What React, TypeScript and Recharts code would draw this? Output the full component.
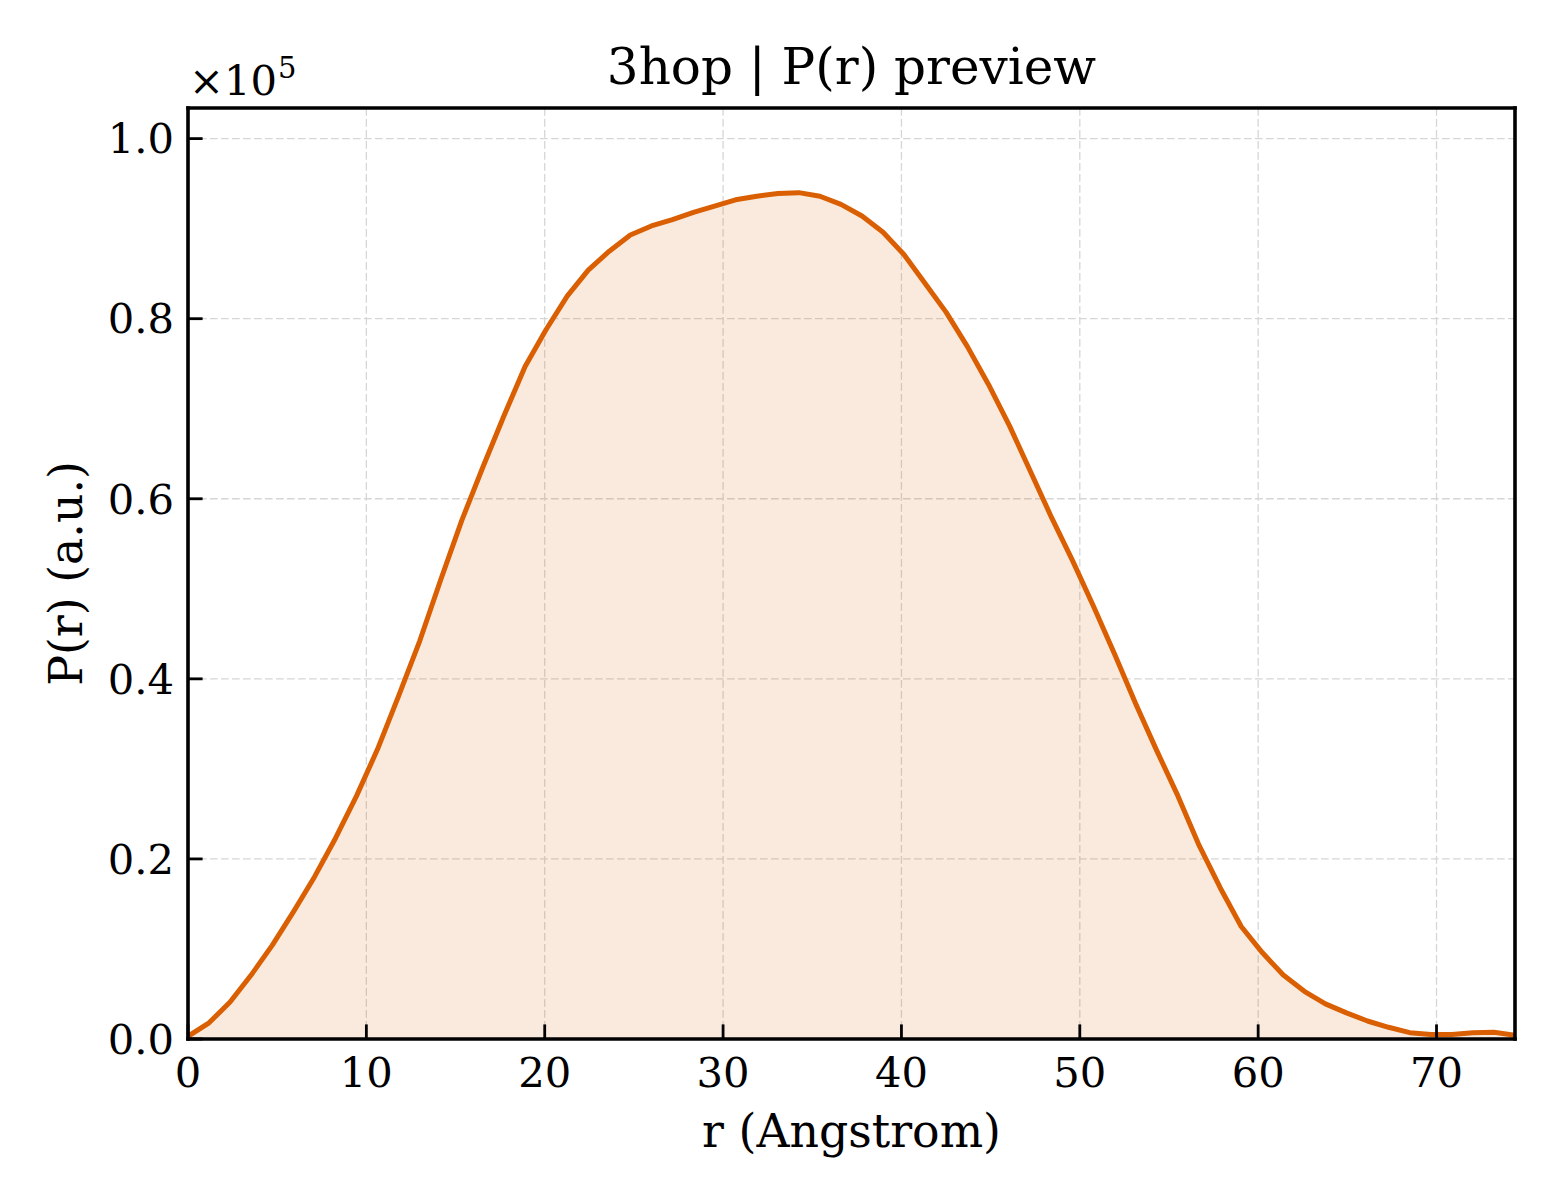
import {
    ComposedChart,
    Area,
    XAxis,
    YAxis,
    CartesianGrid,
    ReferenceLine
} from "recharts";

const rValues = [
    0, 1.18, 2.36, 3.54, 4.72, 5.9, 7.09, 8.27, 9.45, 10.63, 11.81, 12.99, 14.17, 15.35, 16.53, 17.71,
    18.9, 20.08, 21.26, 22.44, 23.62, 24.8, 25.98, 27.16, 28.34, 29.52, 30.7, 31.89, 33.07, 34.25, 35.43, 36.61,
    37.79, 38.97, 40.15, 41.33, 42.51, 43.7, 44.88, 46.06, 47.24, 48.42, 49.6, 50.78, 51.96, 53.14, 54.32, 55.5,
    56.69, 57.87, 59.05, 60.23, 61.41, 62.59, 63.77, 64.95, 66.13, 67.31, 68.5, 69.68, 70.86, 72.04, 73.22, 74.4,
];

const prValues = [
    300, 1800, 4100, 7100, 10400, 14100, 18000, 22300, 27000, 32200, 38100, 44200, 51000, 57600, 63500, 69200,
    74700, 78800, 82500, 85400, 87500, 89300, 90300, 91000, 91800, 92500, 93200, 93600, 93900, 94000, 93600, 92700,
    91400, 89600, 87100, 83900, 80700, 76900, 72700, 68100, 63000, 57900, 53100, 48000, 42700, 37200, 32000, 27000,
    21500, 16800, 12500, 9600, 7100, 5300, 3900, 2900, 2000, 1300, 700, 500, 500, 700, 750, 400,
];

const xTicks = [0, 10, 20, 30, 40, 50, 60, 70];
const yTicks = [0, 20000, 40000, 60000, 80000, 100000];
const xDomain = [0, 74.4];
const yDomain = [0, 103400];

const title = "3hop | P(r) preview";
const xLabel = "r (Angstrom)";
const yLabel = "P(r) (a.u.)";

const data = rValues.map((r, i) => ({ r, pr: prValues[i] }));

const FONT = "DejaVu Serif";
const LINE = "#D95F02";
const margin = { top: 108, right: 45, bottom: 61, left: 48 };
const Y_AXIS_W = 140;
const X_AXIS_H = 100;
const plotLeft = margin.left + Y_AXIS_W;
const plotRight = 1560 - margin.right;
const plotTop = margin.top;

const tickStyle = { fill: "#000", fontSize: 41.7, fontFamily: FONT };
const spine = { stroke: "#000", strokeWidth: 3.6, strokeLinecap: "square" as const };

function renderXLabel(props: any) {
    const vb = props.viewBox;
    return (
        <text x={vb.x + vb.width / 2} y={vb.y + 108} textAnchor="middle" fontSize={45.8} fontFamily={FONT} fill="#000">
            {xLabel}
        </text>
    );
}

function renderYLabel(props: any) {
    const vb = props.viewBox;
    const cx = vb.x + 34;
    const cy = vb.y + vb.height / 2;
    return (
        <g>
            <text x={cx} y={cy} transform={`rotate(-90, ${cx}, ${cy})`} textAnchor="middle" fontSize={45.8} fontFamily={FONT} fill="#000">
                {yLabel}
            </text>
            <text x={plotLeft + 1} y={plotTop - 13} fontSize={41.7} fontFamily={FONT} fill="#000">
                ×10<tspan dx={1} dy={-17} fontSize={29}>5</tspan>
            </text>
            <text x={(plotLeft + plotRight) / 2} y={plotTop - 24} textAnchor="middle" fontSize={50} fontFamily={FONT} fill="#000">
                {title}
            </text>
        </g>
    );
}

export default function App() {
    return (
        <div style={{ position: "absolute", left: 0, top: 0, width: 1560, height: 1200, background: "#fff" }}>
            <ComposedChart width={1560} height={1200} data={data} margin={margin}>
                <CartesianGrid stroke="#d6d6d6" strokeWidth={1.3} strokeDasharray="7.7 3.3" />
                <XAxis
                    dataKey="r"
                    type="number"
                    domain={xDomain}
                    ticks={xTicks}
                    allowDataOverflow
                    interval={0}
                    height={X_AXIS_H}
                    tickSize={-14.6}
                    tickMargin={33}
                    tick={tickStyle}
                    axisLine={spine}
                    tickLine={{ stroke: "#000", strokeWidth: 2.8 }}
                    label={renderXLabel}
                />
                <YAxis
                    type="number"
                    domain={yDomain}
                    ticks={yTicks}
                    allowDataOverflow
                    interval={0}
                    width={Y_AXIS_W}
                    tickSize={-14.6}
                    tickMargin={28.6}
                    tick={tickStyle}
                    tickFormatter={(v: number) => (v / 100000).toFixed(1)}
                    axisLine={spine}
                    tickLine={{ stroke: "#000", strokeWidth: 2.8 }}
                    label={renderYLabel}
                />
                <Area
                    type="linear"
                    dataKey="pr"
                    stroke={LINE}
                    strokeWidth={5}
                    strokeLinejoin="round"
                    fill={LINE}
                    fillOpacity={0.13}
                    dot={false}
                    activeDot={false}
                    isAnimationActive={false}
                />
                <ReferenceLine y={yDomain[1]} stroke="#000" strokeWidth={3.6} strokeLinecap="square" />
                <ReferenceLine x={xDomain[1]} stroke="#000" strokeWidth={3.6} strokeLinecap="square" />
            </ComposedChart>
        </div>
    );
}
